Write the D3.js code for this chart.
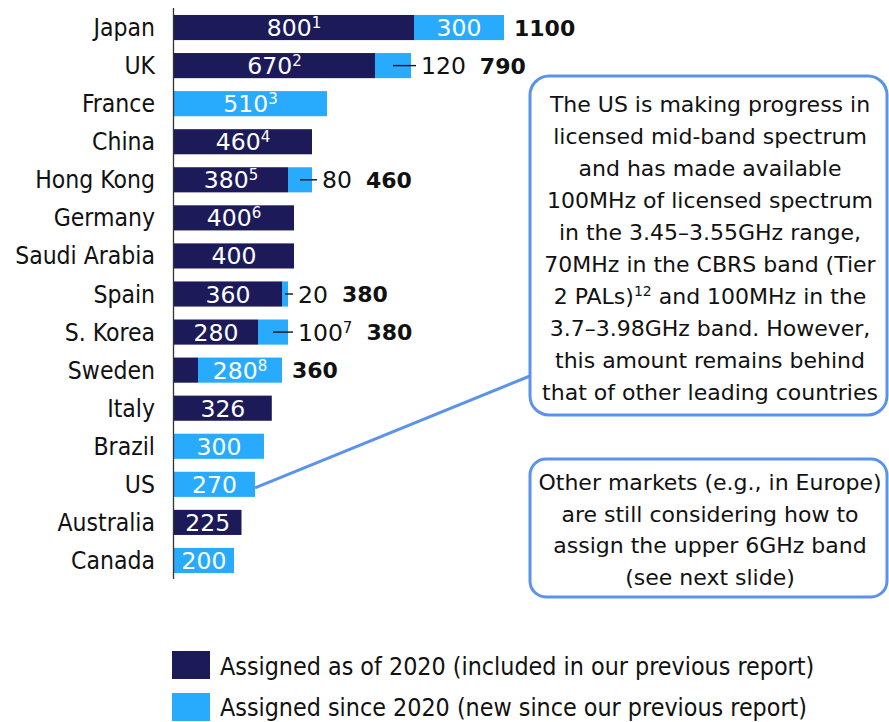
<!DOCTYPE html>
<html>
<head>
<meta charset="utf-8">
<script src="https://cdn.jsdelivr.net/npm/d3@7"></script>
<style>
  html, body { margin: 0; padding: 0; background: #ffffff; }
  svg { display: block; }
  .cond { font-family: "DejaVu Sans Condensed", "DejaVu Sans", sans-serif; font-stretch: condensed; }
  .reg { font-family: "DejaVu Sans", sans-serif; }
</style>
</head>
<body>
<svg id="chart" width="889" height="722"></svg>
<script>
// Mid-band spectrum assigned per market (MHz)
const countries = ["Japan", "UK", "France", "China", "Hong Kong", "Germany", "Saudi Arabia",
  "Spain", "S. Korea", "Sweden", "Italy", "Brazil", "US", "Australia", "Canada"];
const assigned2020 = [800, 670, 0, 460, 380, 400, 400, 360, 280, 80, 326, 0, 0, 225, 0];
const assignedSince = [300, 120, 510, 0, 80, 0, 0, 20, 100, 280, 0, 300, 270, 0, 200];
const notes2020 = ["1", "2", "", "4", "5", "6", "", "", "", "", "", "", "", "", ""];
const notesSince = ["", "", "3", "", "", "", "", "", "7", "8", "", "", "", "", ""];
const seriesNames = [
  "Assigned as of 2020 (included in our previous report)",
  "Assigned since 2020 (new since our previous report)"
];
const xMax = 1100;

const calloutUS = [
  ["The US is making progress in"],
  ["licensed mid-band spectrum"],
  ["and has made available"],
  ["100MHz of licensed spectrum"],
  ["in the 3.45\u20133.55GHz range,"],
  ["70MHz in the CBRS band (Tier"],
  ["2 PALs)", "12", " and 100MHz in the"],
  ["3.7\u20133.98GHz band. However,"],
  ["this amount remains behind"],
  ["that of other leading countries"]
];
const calloutOther = [
  "Other markets (e.g., in Europe)",
  "are still considering how to",
  "assign the upper 6GHz band",
  "(see next slide)"
];

const colors = { old: "#1d1a5a", add: "#29abfd", callout: "#5b93ec", ink: "#111111" };

const svg = d3.select("#chart");

const x = d3.scaleLinear().domain([0, xMax]).range([174, 504]);
const y = d3.scaleBand().domain(countries).range([8.5, 579.5]).paddingInner(0.34).paddingOuter(0.17);

const rows = countries.map((c, i) => ({
  country: c, old: assigned2020[i], add: assignedSince[i],
  noteOld: notes2020[i], noteAdd: notesSince[i]
}));

// Country labels
svg.append("g").selectAll("text").data(rows).join("text")
  .attr("class", "cond")
  .attr("x", 155)
  .attr("y", d => y(d.country) + y.bandwidth() / 2 + 8.5)
  .attr("text-anchor", "end")
  .attr("font-size", 24.5)
  .attr("fill", colors.ink)
  .text(d => d.country);

// Stacked bars
const bars = svg.append("g");
rows.forEach(d => {
  const y0 = y(d.country), h = y.bandwidth();
  if (d.old > 0) {
    bars.append("rect").attr("x", x(0)).attr("y", y0)
      .attr("width", x(d.old) - x(0)).attr("height", h).attr("fill", colors.old);
  }
  if (d.add > 0) {
    bars.append("rect").attr("x", x(d.old)).attr("y", y0)
      .attr("width", x(d.old + d.add) - x(d.old)).attr("height", h).attr("fill", colors.add);
  }
});

// Category axis line
svg.append("line")
  .attr("x1", 173.5).attr("x2", 173.5).attr("y1", 8).attr("y2", 579)
  .attr("stroke", "#333").attr("stroke-width", 1.3);

// Value labels with footnote superscripts
function valueText(g, xPos, yPos, anchor, value, note, fill) {
  const t = g.append("text").attr("class", "reg")
    .attr("x", xPos).attr("y", yPos).attr("text-anchor", anchor)
    .attr("font-size", 23.5).attr("fill", fill);
  t.append("tspan").text(value);
  if (note) t.append("tspan").attr("font-size", 15).attr("dy", -8).text(note);
  return t;
}

const labels = svg.append("g");
const minInside = 45;
rows.forEach(d => {
  const cy = y(d.country) + y.bandwidth() / 2;
  const base = cy + 8.5;
  const end = x(d.old + d.add);
  let tail = end + 10;
  if (d.old > 0 && x(d.old) - x(0) >= minInside) {
    valueText(labels, (x(0) + x(d.old)) / 2, base, "middle", d.old, d.noteOld, "#fff");
  }
  if (d.add > 0) {
    const segW = x(d.old + d.add) - x(d.old);
    if (segW >= minInside) {
      valueText(labels, (x(d.old) + end) / 2, base, "middle", d.add, d.noteAdd, "#fff");
    } else {
      labels.append("line")
        .attr("x1", (x(d.old) + end) / 2).attr("x2", end + 5)
        .attr("y1", cy).attr("y2", cy)
        .attr("stroke", colors.ink).attr("stroke-width", 1.4);
      const t = valueText(labels, end + 10, base, "start", d.add, d.noteAdd, colors.ink);
      tail = end + 10 + t.node().getComputedTextLength() + 14;
    }
  }
  if (d.old > 0 && d.add > 0) {
    labels.append("text").attr("class", "reg")
      .attr("x", tail).attr("y", cy + 8)
      .attr("font-size", 22).attr("font-weight", "bold").attr("fill", colors.ink)
      .text(d.old + d.add);
  }
});

// Callouts
const boxL = 530, boxR = 887, textCx = 710;
const cg = svg.append("g");

const usRow = rows.find(r => r.country === "US");
cg.append("line")
  .attr("x1", x(usRow.old + usRow.add)).attr("y1", y("US") + y.bandwidth() / 2 + 3.5)
  .attr("x2", boxL).attr("y2", 376)
  .attr("stroke", colors.callout).attr("stroke-width", 3);

cg.append("rect").attr("x", boxL).attr("y", 76).attr("width", boxR - boxL).attr("height", 339)
  .attr("rx", 19).attr("fill", "#fff").attr("stroke", colors.callout).attr("stroke-width", 3);
cg.append("rect").attr("x", boxL).attr("y", 459).attr("width", boxR - boxL).attr("height", 138)
  .attr("rx", 16).attr("fill", "#fff").attr("stroke", colors.callout).attr("stroke-width", 3);

calloutUS.forEach((parts, i) => {
  const t = cg.append("text").attr("class", "reg")
    .attr("x", textCx).attr("y", 112 + i * 32).attr("text-anchor", "middle")
    .attr("font-size", 22).attr("fill", colors.ink);
  if (parts.length === 1) { t.text(parts[0]); return; }
  t.append("tspan").text(parts[0]);
  t.append("tspan").attr("font-size", 14).attr("dy", -8).text(parts[1]);
  t.append("tspan").attr("dy", 8).text(parts[2]);
});
calloutOther.forEach((line, i) => {
  cg.append("text").attr("class", "reg")
    .attr("x", textCx).attr("y", 490 + i * 31.5).attr("text-anchor", "middle")
    .attr("font-size", 22).attr("fill", colors.ink).text(line);
});

// Legend
const lg = svg.append("g");
[colors.old, colors.add].forEach((c, i) => {
  lg.append("rect").attr("x", 172).attr("y", 651 + i * 42).attr("width", 38).attr("height", 28).attr("fill", c);
  lg.append("text").attr("class", "cond")
    .attr("x", 220).attr("y", 675 + i * 41)
    .attr("font-size", 24.8).attr("fill", colors.ink).text(seriesNames[i]);
});
</script>
</body>
</html>
